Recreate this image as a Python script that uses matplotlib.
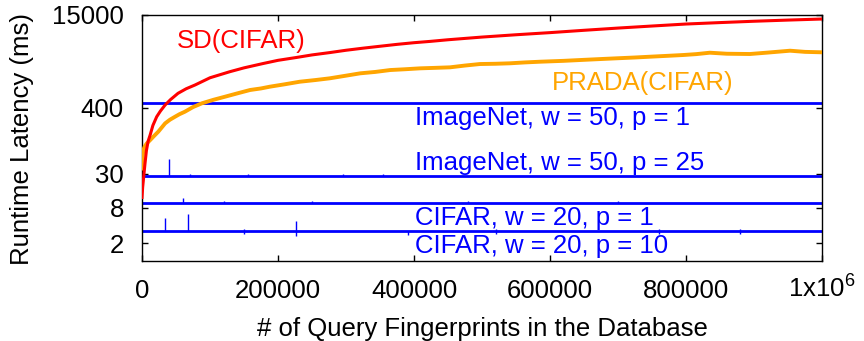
import matplotlib
matplotlib.use("Agg")
import matplotlib.pyplot as plt
from matplotlib.ticker import FixedLocator, NullLocator

plt.rcParams['font.family'] = ['Liberation Sans', 'DejaVu Sans']
plt.rcParams['mathtext.default'] = 'regular'

# ---------------- data ----------------
sd_n = [0, 1000, 2500, 4400, 6500, 9000, 12000, 16000, 21600, 27000,
        34000, 42000, 53000, 65000, 78000, 100000, 129000, 150000, 178000,
        200000, 227000, 250000, 276000, 300000, 325000, 350000, 375000,
        400000, 424000, 450000, 500000, 550000, 600000, 650000, 700000,
        750000, 800000, 850000, 900000, 950000, 1000000]
sd_ms = [12, 18, 27, 45, 75, 108, 138, 200, 281, 350,
         445, 550, 703, 840, 973, 1290, 1633, 1900, 2250,
         2550, 2850, 3150, 3450, 3780, 4100, 4420, 4760,
         5080, 5350, 5700, 6330, 6930, 7530, 8250, 9000,
         9750, 10540, 11150, 11750, 12300, 12820]

prada_n = [0, 1000, 2000, 4000, 7000, 12000, 17000, 24000, 34000, 41000,
           48500, 55000, 63000, 75000, 88000, 105000, 122000, 140000,
           159000, 175000, 188000, 210000, 232000, 255000, 276000, 300000,
           321000, 343000, 365000, 387000, 409000, 431000, 453000, 475000,
           497000, 520000, 541000, 563000, 585000, 620000, 650000, 680000,
           698000, 725000, 750000, 775000, 796000, 815000, 835000, 860000,
           894000, 920000, 953000, 975000, 1000000]
prada_ms = [37, 60, 77, 88, 99, 113, 130, 157, 217, 250,
            281, 310, 342, 410, 475, 545, 615, 700,
            800, 850, 910, 1000, 1105, 1180, 1262, 1400,
            1535, 1620, 1745, 1800, 1865, 1900, 1940, 2080,
            2207, 2230, 2270, 2350, 2415, 2500, 2600, 2700,
            2760, 2850, 2950, 3050, 3140, 3250, 3435, 3300,
            3265, 3450, 3715, 3550, 3490]

# flat blue series (baseline level over the whole range)
imgnet_p1_n = [0, 1000000]
imgnet_p1_ms = [490, 490]
imgnet_p25_n = [0, 1000000]
imgnet_p25_ms = [27.7, 27.7]
cifar_p1_n = [0, 1000000]
cifar_p1_ms = [9.6, 9.6]
cifar_p10_n = [0, 1000000]
cifar_p10_ms = [3.2, 3.2]

# isolated spikes on the blue series: position, low value, high value
spike_n = [40000, 70000, 156000, 296000, 354000,
           61000, 120000, 250000, 480000, 700000,
           34000, 68000, 227000, 391000, 150000, 520000, 760000, 880000]
spike_lo = [27.7, 27.7, 27.7, 27.7, 27.7,
            9.6, 9.6, 9.6, 9.6, 9.6,
            3.2, 3.2, 2.7, 2.8, 2.9, 2.9, 2.9, 2.9]
spike_hi = [53, 30, 30, 30, 30,
            11.7, 10.4, 10.4, 10.4, 10.4,
            5.3, 6.3, 4.7, 3.2, 3.5, 3.5, 3.5, 3.5]

x_ticks = [0, 200000, 400000, 600000, 800000, 1000000]
x_tick_labels = ['0', '200000', '400000', '600000', '800000', '1x10$^{6}$']
y_ticks = [2, 8, 30, 400, 15000]
y_tick_labels = ['2', '8', '30', '400', '15000']

labels = {
    'sd': 'SD(CIFAR)',
    'prada': 'PRADA(CIFAR)',
    'imgnet_p1': 'ImageNet, w = 50, p = 1',
    'imgnet_p25': 'ImageNet, w = 50, p = 25',
    'cifar_p1': 'CIFAR, w = 20, p = 1',
    'cifar_p10': 'CIFAR, w = 20, p = 10',
}

# ---------------- figure ----------------
RED = '#ff0000'
ORANGE = '#ffa500'
BLUE = '#0000ff'
FS = 18.5

fig = plt.figure(figsize=(8.64, 3.41), dpi=100)
ax = fig.add_axes([142 / 864, 1 - 261 / 341, 680 / 864, 246 / 341])

ax.vlines(spike_n, spike_lo, spike_hi, color=BLUE, lw=1.0, zorder=2)
ax.plot(imgnet_p1_n, imgnet_p1_ms, color=BLUE, lw=2.0, zorder=2)
ax.plot(imgnet_p25_n, imgnet_p25_ms, color=BLUE, lw=2.0, zorder=2)
ax.plot(cifar_p1_n, cifar_p1_ms, color=BLUE, lw=2.0, zorder=2)
ax.plot(cifar_p10_n, cifar_p10_ms, color=BLUE, lw=2.0, zorder=2)
ax.plot(prada_n, prada_ms, color=ORANGE, lw=2.8, zorder=3,
        solid_joinstyle='round')
ax.plot(sd_n, sd_ms, color=RED, lw=2.2, zorder=4, solid_joinstyle='round')

ax.set_yscale('log')
ax.set_xlim(0, 1000000)
ax.set_ylim(1.0, 15000)

ax.yaxis.set_major_locator(FixedLocator(y_ticks))
ax.yaxis.set_minor_locator(NullLocator())
ax.set_yticklabels(y_tick_labels)
ax.set_xticks(x_ticks)
ax.set_xticklabels(x_tick_labels)
ax.xaxis.set_minor_locator(NullLocator())

ax.tick_params(axis='both', which='major', direction='in', length=4.5,
               width=1.0, top=True, right=True, labelsize=FS)
ax.tick_params(axis='y', pad=13)
ax.tick_params(axis='x', pad=26.5)
plt.setp(ax.get_xticklabels(), va='baseline')
for s in ax.spines.values():
    s.set_linewidth(1.0)

tx = ax.transAxes
ax.text(0.0515, 0.866, labels['sd'], color=RED, fontsize=FS, transform=tx,
        ha='left', va='baseline')
ax.text(0.603, 0.695, labels['prada'], color=ORANGE, fontsize=FS, transform=tx,
        ha='left', va='baseline')
ax.text(0.4015, 0.553, labels['imgnet_p1'], color=BLUE, fontsize=FS, transform=tx,
        ha='left', va='baseline')
ax.text(0.4015, 0.370, labels['imgnet_p25'], color=BLUE, fontsize=FS, transform=tx,
        ha='left', va='baseline')
ax.text(0.4015, 0.146, labels['cifar_p1'], color=BLUE, fontsize=FS, transform=tx,
        ha='left', va='baseline')
ax.text(0.4015, 0.0325, labels['cifar_p10'], color=BLUE, fontsize=FS, transform=tx,
        ha='left', va='baseline')

fig.text(22.5 / 864, 1 - 139 / 341, 'Runtime Latency (ms)', rotation=90,
         ha='center', va='center', fontsize=FS)
fig.text(482 / 864, 1 - 336 / 341, '# of Query Fingerprints in the Database',
         ha='center', va='baseline', fontsize=FS)

fig.savefig('out.png', dpi=100)
